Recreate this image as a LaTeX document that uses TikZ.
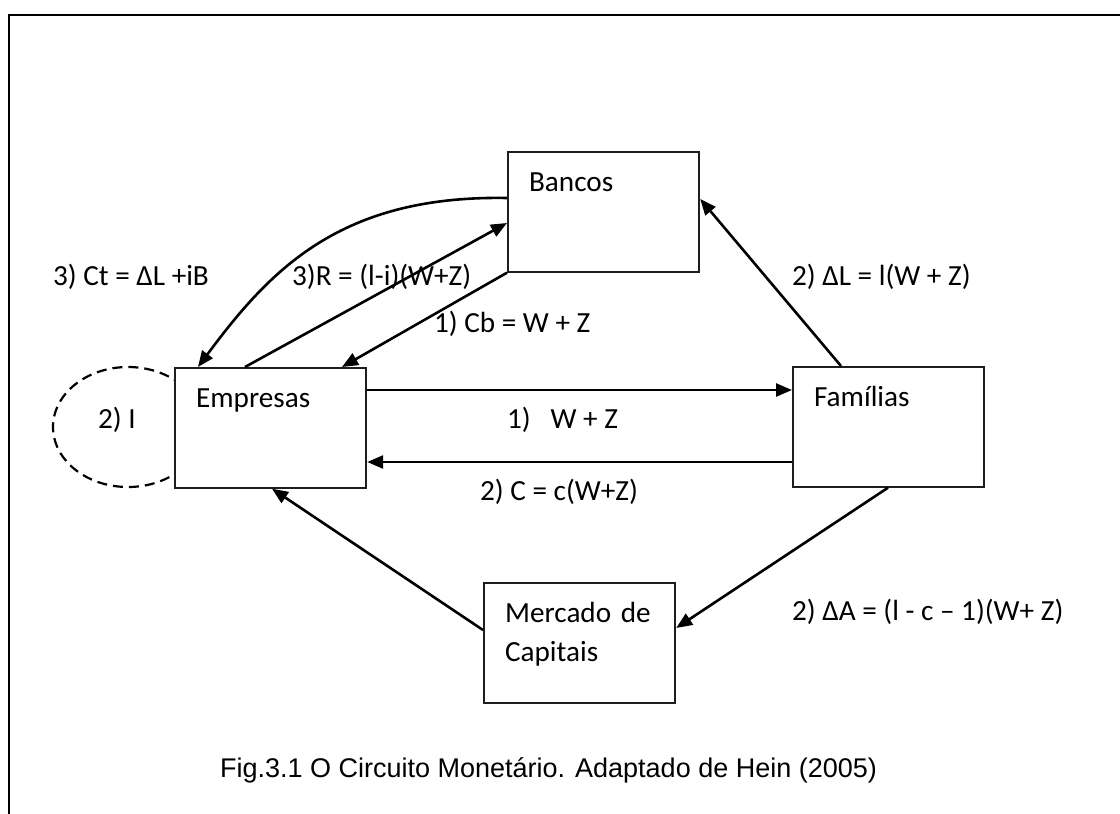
\documentclass[tikz,border=0pt]{standalone}
\usepackage{fontspec}
\setmainfont{Carlito}
\newfontfamily\legenda{Liberation Sans}
\usepackage{tikz}
\usetikzlibrary{arrows.meta}
\definecolor{borda}{RGB}{30, 30, 30}

\begin{document}
\begin{tikzpicture}[x=0.5pt, y=-0.5pt, line width=1.1pt,
  font=\fontsize{14.6pt}{19.5pt}\selectfont,
  caixa/.style={draw=borda, fill=white, anchor=north west, align=left,
    inner xsep=10.5pt, inner ysep=0pt, text width=74.5pt,
    text height=19.75pt, text depth=40pt},
  seta/.style={-{Triangle[length=8pt, width=6.5pt]}, line width=1.3pt},
  rotulo/.style={anchor=base west, inner sep=0pt}]

  \useasboundingbox (0, 0) rectangle (1120, 814);
  \draw (9, 814) -- (9, 15) -- (1120, 15);

  \draw[dash pattern=on 5pt off 3pt] (128, 427) ellipse (37.5pt and 30pt);

  \node[caixa] (bancos) at (507, 151) {Bancos};
  \node[caixa] (empresas) at (174, 367) {Empresas};
  \node[caixa] (familias) at (792, 366) {Famílias};
  \node[caixa] (mercado) at (483, 582) {Mercado de\\Capitais};

  % fluxos
  \draw[seta] ([yshift=-11.5pt]empresas.north east) coordinate (p)
    -- (p -| familias.west);
  \draw[seta] ([yshift=-48pt]familias.north west) coordinate (q)
    -- (q -| empresas.east);
  \draw[seta] (bancos.south west) -- ([xshift=84pt]empresas.north west);
  \draw[seta] ([xshift=35.5pt]empresas.north west) -- ([yshift=-36pt]bancos.north west);
  \draw[seta] ([yshift=-23.5pt]bancos.north west)
    .. controls (340, 195) and (270, 270) .. ([xshift=12pt]empresas.north west);
  \draw[seta] ([xshift=24.5pt]familias.north west) -- ([yshift=-24pt]bancos.north east);
  \draw[seta] ([xshift=48pt]familias.south west) -- ([yshift=-23pt]mercado.north east);
  \draw[seta] ([yshift=-24pt]mercado.north west) -- ([xshift=49pt]empresas.south west);

  \node[rotulo] (ct) at (52, 285) {3) Ct = ΔL +iB};
  \node[rotulo] (r) at (291, 285) {3)R = (l-i)(W+Z)};
  \node[rotulo] (cb) at (433, 332) {1) Cb = W + Z};
  \node[rotulo] (dl) at (791, 285) {2) ΔL = l(W + Z)};
  \node[rotulo] (wz) at (506, 428) {1)\ \ \ W + Z};
  \node[rotulo] (c) at (479, 500) {2) C = c(W+Z)};
  \node[rotulo] (da) at (791, 620) {2) ΔA = (l - c – 1)(W+ Z)};
  \node[rotulo] (inv) at (97, 428) {2) I};

  \node[rotulo, font=\legenda\fontsize{13.5pt}{17pt}\selectfont] (fig) at (219, 777)
    {Fig.3.1 O Circuito Monetário. Adaptado de Hein (2005)};

\end{tikzpicture}
\end{document}
